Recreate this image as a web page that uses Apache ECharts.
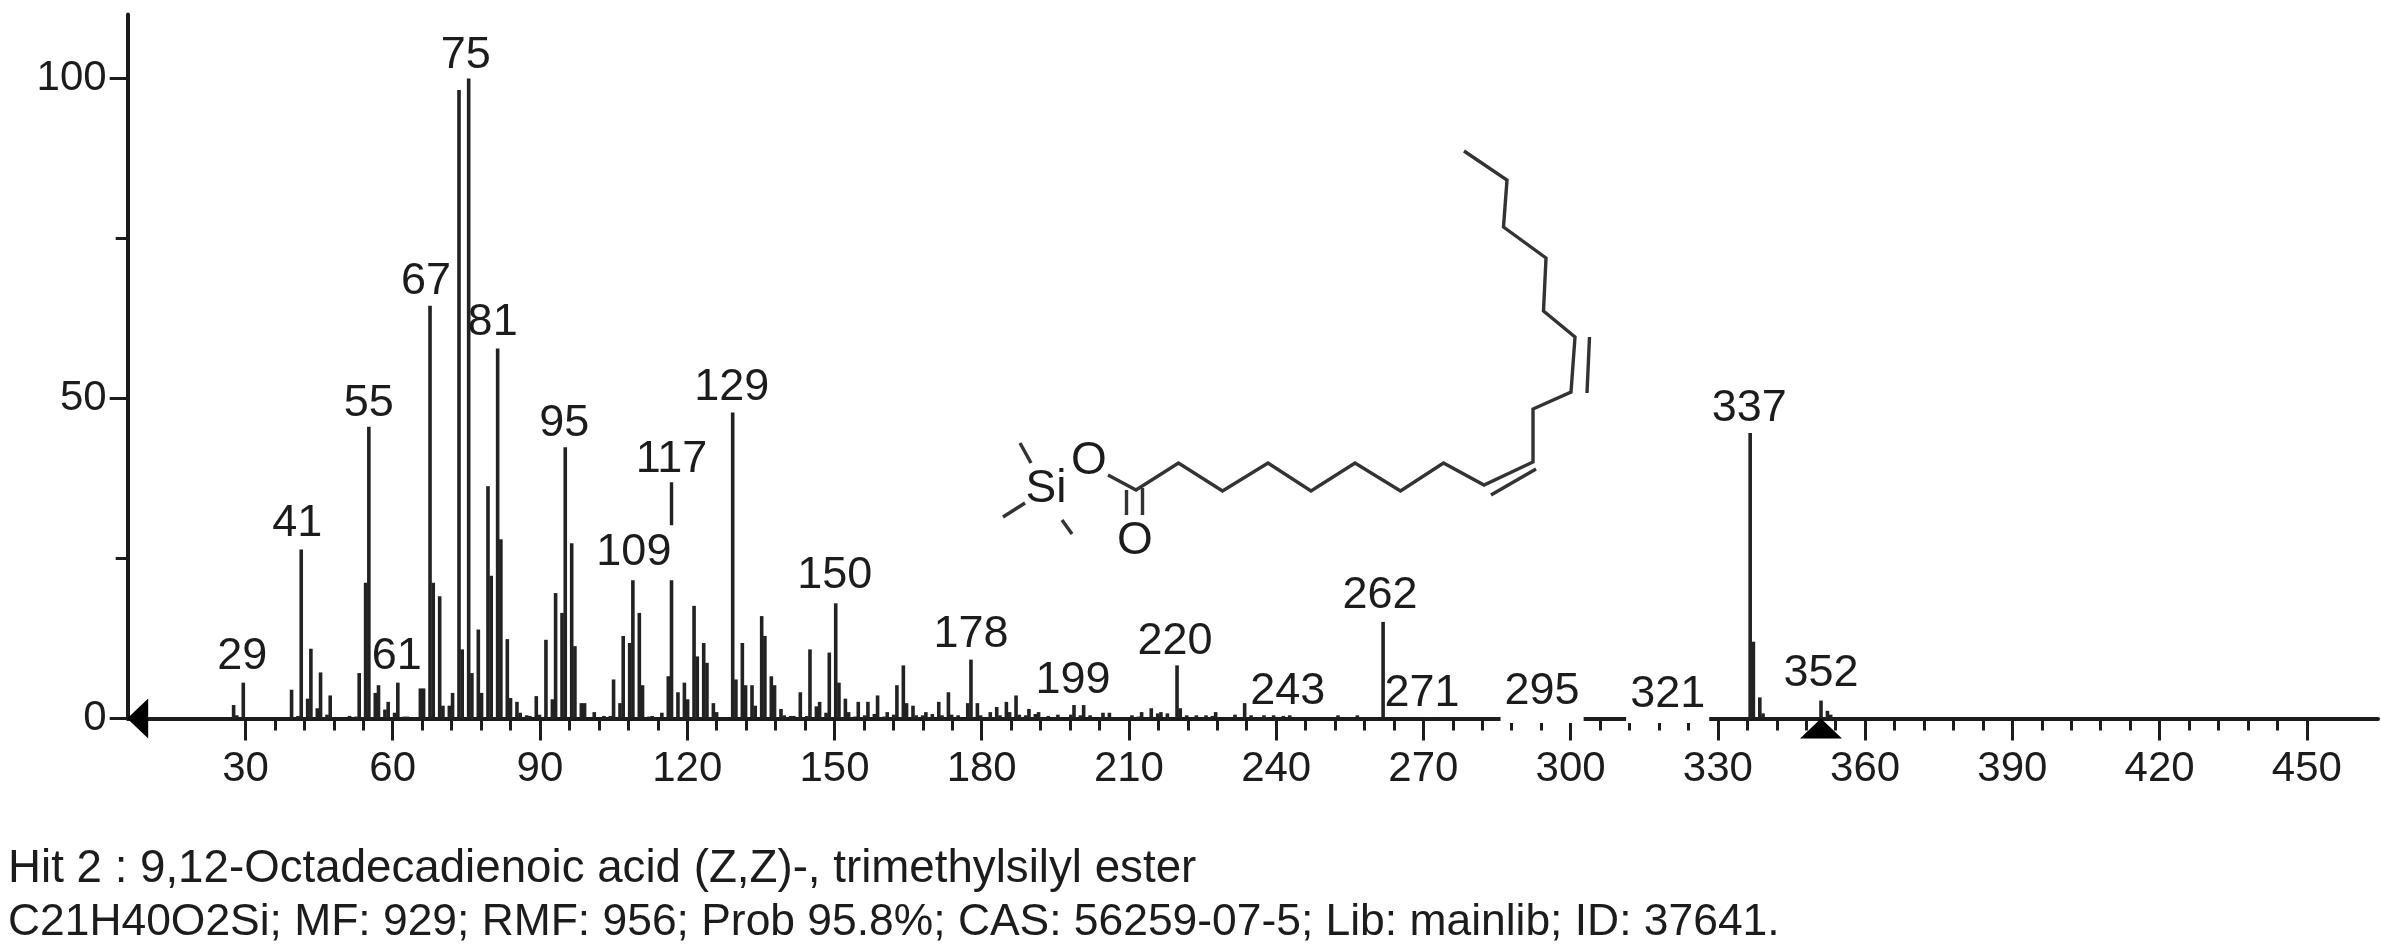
<!DOCTYPE html>
<html>
<head>
<meta charset="utf-8">
<title>Mass spectrum</title>
<style>html,body{margin:0;padding:0;background:#fff}#chart{width:2381px;height:951px}</style>
<script src="https://cdn.jsdelivr.net/npm/echarts@6/dist/echarts.min.js"></script>
</head>
<body>
<div id="chart"></div>
<script>
// m/z values and relative intensities
const mz = [27,28,29,39,40,41,42,43,44,45,46,47,51,52,53,54,55,56,57,58,59,60,61,62,63,65,66,67,68,69,70,71,72,73,74,75,76,77,78,79,80,81,82,83,84,85,86,87,88,
  89,90,91,92,93,94,95,96,97,98,99,101,103,104,105,106,107,108,109,110,111,112,113,115,116,117,118,119,120,121,122,123,124,125,126,
  129,130,131,132,133,134,135,136,137,138,139,140,141,142,143,144,145,146,147,148,149,150,151,152,153,154,155,156,157,158,159,160,161,162,163,164,165,166,167,168,169,170,171,172,173,174,175,177,178,179,180,182,183,
  184,185,186,187,188,189,190,191,192,194,196,198,199,200,201,202,205,206,211,212,213,215,216,217,218,220,221,222,224,226,227,228,232,234,235,238,240,242,243,253,257,262,271,295,321,337,338,339,340,352,353,354];
const intensity = [2.1,0.5,5.6,4.5,0.4,26.4,3.1,10.9,1.6,7.2,0.6,3.6,0.4,0.3,7.1,21.2,45.6,4,5.2,1.4,2.6,0.9,5.6,0.3,0.3,4.7,4.7,64.5,21.2,19.1,2,2,4,98.2,10.8,100,7.1,13.9,4,36.3,22.3,57.8,28,12.4,3.2,2.6,0.9,0.5,0.4,
  3.5,0.6,12.3,3,19.6,16.5,42.4,27.4,11.3,2.4,2.4,1,0.4,0.4,6.1,2.4,12.9,11.8,21.6,16.5,5.2,0.3,0.4,0.9,6.6,21.6,4.1,5.6,3,17.6,9.7,11.8,8.7,2.4,1,
  47.8,6.1,11.8,5.2,5.2,2,16,12.9,6.6,5.2,1.5,0.5,0.4,0.4,4.1,0.4,10.8,1.9,2.6,0.9,10.3,18,5.6,3.1,1,0.3,2.6,0.5,2.6,0.7,3.6,0.3,1,0.6,5.2,8.3,2.4,2,0.5,0.5,1,0.7,2.6,0.5,4.1,0.6,0.5,2.4,9.2,2.4,0.5,1,1.8,
  0.5,2.6,1,3.6,0.6,0.5,1.5,0.7,1,0.4,0.6,0.6,2.1,0.5,2.1,0.5,0.9,0.9,0.5,0.3,1,1.6,0.8,1,0.8,8.3,1.6,0.5,0.5,0.5,0.4,1,0.6,2.4,0.5,0.5,0.5,0.4,0.5,0.5,0.5,15.1,0.2,0.2,0.2,44.6,12,3.3,0.8,2.8,1.2,0.6];
const labelledPeaks = [29,41,55,61,67,75,81,95,109,117,129,150,178,199,220,243,262,271,295,321,337,352];
const leaderMz = 117;
const leaderSpan = [30.2, 36.9];
const majorTicks = [30,60,90,120,150,180,210,240,270,300,330,360,390,420,450];
const minorTicks = [36,42,48,54,66,72,78,84,96,102,108,114,126,132,138,144,156,162,168,174,186,192,198,204,216,222,228,234,246,252,258,264,276,282,288,294,306,312,318,324,336,342,348,354,366,372,378,384,396,402,408,414,426,432,438,444];
const yMajorTicks = [0,50,100];
const yMinorTicks = [25,75];
const triangleMz = 352;
const hitTitle = 'Hit 2 : 9,12-Octadecadienoic acid (Z,Z)-, trimethylsilyl ester';
const hitInfo = 'C21H40O2Si; MF: 929; RMF: 956; Prob 95.8%; CAS: 56259-07-5; Lib: mainlib; ID: 37641.';

// The reference is an enlarged low-resolution raster: sticks land on its coarse pixel grid.
const snap = m => Math.floor(1.519 * m + 0.265) / 1.519;

const FONT = '"Liberation Sans", Arial, sans-serif';
const INK = '#1c1c1c';
const labelShift = {29:[-1,-3.5],41:[-4,-3.5],55:[0,-0.5],61:[-1,-3.5],67:[-4,-1.5],75:[-3,-0.5],81:[-5,-3.5],95:[-1,-1.5],109:[1,-5.5],117:[0,-98.5],129:[-1,-2.5],150:[-1,-5.5],178:[0,-2.5],199:[-1,-1.5],220:[-2,-1.5],243:[-2,-1.5],262:[-3,-3.5],271:[-3,-1.5],295:[-2,5.8],321:[-2,5.8],337:[-1,-1.5],352:[0,-4.5]};
const labelBox = {295:[2,4,8.5,4],321:[2,4,5.5,4]};

const peakPoints = mz.map((m,i)=>[snap(m),intensity[i]]);
const labelPoints = labelledPeaks.map(m=>{
  const box = labelBox[m];
  return {
    value:[snap(m),intensity[mz.indexOf(m)]],
    name:String(m),
    label:{offset:labelShift[m],backgroundColor:box?'#fff':'transparent',padding:box||0}
  };
});

// Structure drawing (decorative inset, screen coordinates)
const bond = pts => ({type:'polyline',z:5,shape:{points:pts},style:{stroke:'#333',lineWidth:3.4,fill:null}});
const atom = (t,x,y) => ({type:'text',z:6,style:{text:t,x:x,y:y,align:'center',verticalAlign:'middle',font:'46px '+FONT,fill:INK}});
const structure = [
  bond([[1464,151],[1507,180],[1503.5,227],[1546,258],[1543.5,311],[1575,337],[1571,392],[1533,409],[1533,462],[1484,485],[1443.5,463],[1400.5,491],[1355,463],[1311,491],[1268,463],[1222.5,491],[1178.5,463],[1136,490],[1108,475]]),
  bond([[1589.5,337],[1587,393]]),
  bond([[1491,495],[1536,469]]),
  bond([[1126.5,490],[1126.5,515]]),
  bond([[1142.5,488],[1142.5,515]]),
  bond([[1020,443],[1031,463]]),
  bond([[1003,517],[1025,503]]),
  bond([[1062,520],[1072,534]]),
  atom('O',1135,541),atom('O',1089,461),atom('Si',1046,489),
  {type:'text',z:6,style:{text:hitTitle,x:8,y:869,align:'left',verticalAlign:'middle',font:'45.7px '+FONT,fill:INK}},
  {type:'text',z:6,style:{text:hitInfo,x:8,y:923,align:'left',verticalAlign:'middle',font:'44.4px '+FONT,fill:INK}}
];

const lineStyle = {color:INK,width:4};
const tickLine = {color:INK,width:3};
const GRID_LEFT = 127.7, GRID_W = 2250.3;
const chart = echarts.init(document.getElementById('chart'),null,{renderer:'canvas'});
chart.setOption({
  animation:false,
  backgroundColor:'#fff',
  grid:{left:GRID_LEFT,top:14.5,width:GRID_W,height:704,containLabel:false},
  xAxis:[
    {type:'value',min:5.336,max:465.43,show:false},
    {type:'value',min:6,max:464.5,position:'bottom',splitLine:{show:false},
     axisLine:{show:true,onZero:false,lineStyle},
     axisTick:{show:true,length:22,customValues:majorTicks,lineStyle:tickLine},
     axisLabel:{show:true,customValues:majorTicks,margin:30,fontSize:42,fontFamily:FONT,color:INK,hideOverlap:false,showMinLabel:true,showMaxLabel:true}},
    {type:'value',min:6,max:464.5,position:'bottom',splitLine:{show:false},
     axisLine:{show:false},
     axisTick:{show:true,length:12,customValues:minorTicks,lineStyle:tickLine},
     axisLabel:{show:false}}
  ],
  yAxis:[
    {type:'value',min:0,max:110,position:'left',splitLine:{show:false},
     axisLine:{show:true,onZero:false,lineStyle},
     axisTick:{show:true,length:18,customValues:yMajorTicks,lineStyle:tickLine},
     axisLabel:{show:true,customValues:yMajorTicks,margin:21,fontSize:42,fontFamily:FONT,color:INK}},
    {type:'value',min:0,max:110,position:'left',splitLine:{show:false},
     axisLine:{show:false},
     axisTick:{show:true,length:12,customValues:yMinorTicks,lineStyle:tickLine},
     axisLabel:{show:false}}
  ],
  series:[
    {type:'bar',name:'Intensity',xAxisIndex:0,yAxisIndex:0,barWidth:3.6,itemStyle:{color:'#222'},data:peakPoints,silent:true},
    {type:'line',name:'Leader',xAxisIndex:0,yAxisIndex:0,symbol:'none',lineStyle:{color:'#222',width:3.4},
     data:leaderSpan.map(v=>[snap(leaderMz),v])},
    {type:'scatter',name:'Peak labels',xAxisIndex:0,yAxisIndex:0,symbolSize:0,clip:false,z:8,itemStyle:{opacity:1},
     label:{show:true,position:'top',distance:0,formatter:p=>p.name,fontSize:45,lineHeight:45,fontFamily:FONT,color:INK},
     data:labelPoints},
    {type:'scatter',name:'Molecular weight marker',xAxisIndex:0,yAxisIndex:0,symbol:'triangle',symbolSize:[42,20],symbolOffset:[0,10],clip:false,z:9,
     itemStyle:{color:'#000',opacity:1},data:[[snap(triangleMz),0]]},
    {type:'scatter',name:'Origin marker',xAxisIndex:1,yAxisIndex:0,symbol:'triangle',symbolSize:[40,21],symbolRotate:90,symbolOffset:[10,0],clip:false,z:9,
     itemStyle:{color:'#000',opacity:1},data:[[6,0]]}
  ],
  graphic:structure
});
</script>
</body>
</html>
